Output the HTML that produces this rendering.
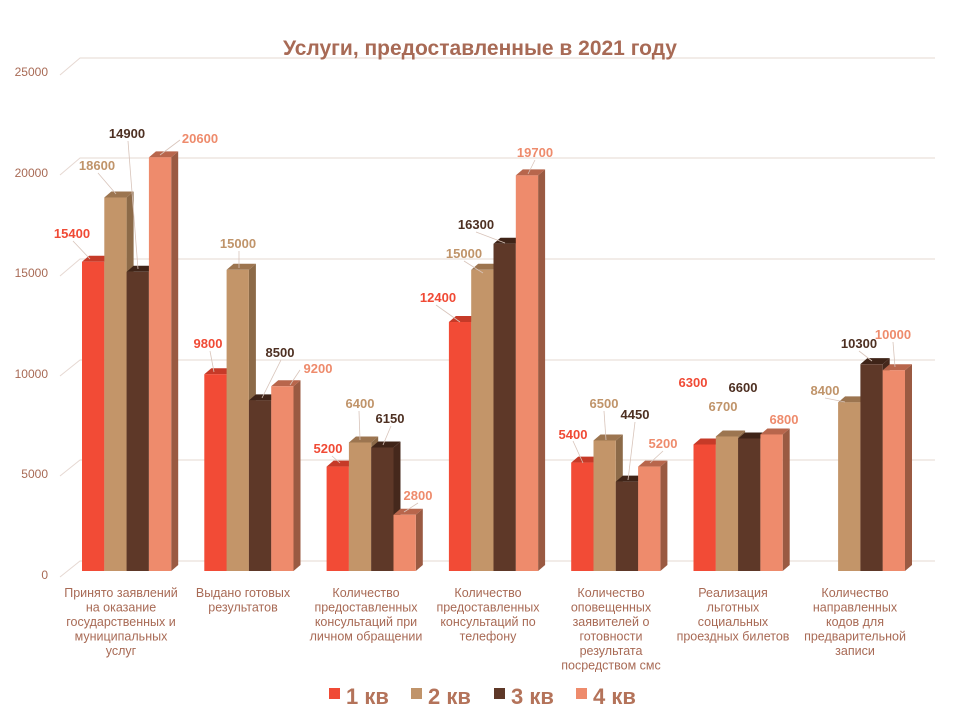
<!DOCTYPE html>
<html><head><meta charset="utf-8">
<style>
body{margin:0;background:#fff;}
#wrap{position:relative;width:960px;height:720px;}
svg{display:block;position:absolute;left:0;top:0;font-family:"Liberation Sans",Arial,sans-serif;}
.ax{font-size:12px;fill:#A86A55;text-anchor:end}
.cat{font-size:12.5px;fill:#A86A55;text-anchor:middle}
.v{font-size:13px;font-weight:bold;text-anchor:middle}
.c1{fill:#F04A35}.c2{fill:#C0946A}.c3{fill:#4E3022}.c4{fill:#EE8B6C}
.lg{font-size:22px;font-weight:bold;fill:#B4735A}
</style></head><body>
<div id="wrap">
<svg width="960" height="720" viewBox="0 0 960 720">
<g stroke="#E6D8D2" stroke-width="1" fill="none">
<path d="M60,75 L80,58 H935"/><path d="M60,175 L80,158 H935"/><path d="M60,276 L80,259 H935"/><path d="M60,376 L80,360 H935"/><path d="M60,476 L80,460 H935"/><path d="M60,577 L80,561 H935"/>
</g>
<g id="bars"></g>
</svg>
<svg width="960" height="720" viewBox="0 0 960 720">
<text x="480" y="55" text-anchor="middle" style="font-size:21px;font-weight:bold;fill:#A86A55">Услуги, предоставленные в 2021 году</text>
<text class="ax" x="48" y="76">25000</text>
<text class="ax" x="48" y="177">20000</text>
<text class="ax" x="48" y="277">15000</text>
<text class="ax" x="48" y="378">10000</text>
<text class="ax" x="48" y="478">5000</text>
<text class="ax" x="48" y="579">0</text>
<g stroke="#D8C4BA" stroke-width="0.8" fill="none">
<path d="M73,241 L90,259"/><path d="M98,173 L116,194"/><path d="M128,141 L138,269"/><path d="M180,140 L160,155"/>
<path d="M210,351 L214,372"/><path d="M239,251 L239,268"/><path d="M281,360 L262,398"/><path d="M300,370 L290,385"/>
<path d="M332,456 L340,463"/><path d="M359,411 L360,440"/><path d="M391,426 L383,445"/><path d="M418,503 L404,512"/>
<path d="M436,305 L460,322"/><path d="M464,261 L483,273"/><path d="M476,232 L505,243"/><path d="M535,160 L528,174"/>
<path d="M573,441 L583,463"/><path d="M604,411 L606,440"/><path d="M635,422 L628,480"/><path d="M663,451 L650,463"/>
<path d="M825,398 L845,402"/><path d="M859,351 L872,361"/><path d="M893,342 L895,367"/>
</g>
<g class="v">
<text class="c1" x="72" y="238">15400</text><text class="c2" x="97" y="170">18600</text><text class="c3" x="127" y="138">14900</text><text class="c4" x="200" y="143">20600</text>
<text class="c1" x="208" y="348">9800</text><text class="c2" x="238" y="248">15000</text><text class="c3" x="280" y="357">8500</text><text class="c4" x="318" y="373">9200</text>
<text class="c1" x="328" y="453">5200</text><text class="c2" x="360" y="408">6400</text><text class="c3" x="390" y="423">6150</text><text class="c4" x="418" y="500">2800</text>
<text class="c1" x="438" y="302">12400</text><text class="c2" x="464" y="258">15000</text><text class="c3" x="476" y="229">16300</text><text class="c4" x="535" y="157">19700</text>
<text class="c1" x="573" y="439">5400</text><text class="c2" x="604" y="408">6500</text><text class="c3" x="635" y="419">4450</text><text class="c4" x="663" y="448">5200</text>
<text class="c1" x="693" y="387">6300</text><text class="c2" x="723" y="411">6700</text><text class="c3" x="743" y="392">6600</text><text class="c4" x="784" y="424">6800</text>
<text class="c2" x="825" y="395">8400</text><text class="c3" x="859" y="348">10300</text><text class="c4" x="893" y="339">10000</text>
</g>
<g class="cat">
<text x="121" y="597">Принято заявлений<tspan x="121" dy="14.5">на оказание</tspan><tspan x="121" dy="14.5">государственных и</tspan><tspan x="121" dy="14.5">муниципальных</tspan><tspan x="121" dy="14.5">услуг</tspan></text>
<text x="243" y="597">Выдано готовых<tspan x="243" dy="14.5">результатов</tspan></text>
<text x="366" y="597">Количество<tspan x="366" dy="14.5">предоставленных</tspan><tspan x="366" dy="14.5">консультаций  при</tspan><tspan x="366" dy="14.5">личном обращении</tspan></text>
<text x="488" y="597">Количество<tspan x="488" dy="14.5">предоставленных</tspan><tspan x="488" dy="14.5">консультаций  по</tspan><tspan x="488" dy="14.5">телефону</tspan></text>
<text x="611" y="597">Количество<tspan x="611" dy="14.5">оповещенных</tspan><tspan x="611" dy="14.5">заявителей о</tspan><tspan x="611" dy="14.5">готовности</tspan><tspan x="611" dy="14.5">результата</tspan><tspan x="611" dy="14.5">посредством смс</tspan></text>
<text x="733" y="597">Реализация<tspan x="733" dy="14.5">льготных</tspan><tspan x="733" dy="14.5">социальных</tspan><tspan x="733" dy="14.5">проездных билетов</tspan></text>
<text x="855" y="597">Количество<tspan x="855" dy="14.5">направленных</tspan><tspan x="855" dy="14.5">кодов для</tspan><tspan x="855" dy="14.5">предварительной</tspan><tspan x="855" dy="14.5">записи</tspan></text>
</g>
<rect x="329" y="688" width="11" height="11" fill="#F04A35"/><text class="lg" x="346" y="704">1 кв</text>
<rect x="411" y="688" width="11" height="11" fill="#C0946A"/><text class="lg" x="428" y="704">2 кв</text>
<rect x="494" y="688" width="11" height="11" fill="#5E3828"/><text class="lg" x="511" y="704">3 кв</text>
<rect x="576" y="688" width="11" height="11" fill="#EE8B6C"/><text class="lg" x="593" y="704">4 кв</text>
</svg>
</div>
<script>
var d=[[15400,18600,14900,20600],[9800,15000,8500,9200],[5200,6400,6150,2800],[12400,15000,16300,19700],[5400,6500,4450,5200],[6300,6700,6600,6800],[0,8400,10300,10000]];
var col=[["#F24B36","#C63A28","#B83A2A"],["#C39569","#9C7550","#8C6A48"],["#5E3828","#3F2418","#45281C"],["#EE8B6C","#B8664C","#9A5A42"]];
var h="",B=571,dx=7,dy=-6,w=22.3;
for(var g=0;g<7;g++)for(var i=0;i<4;i++){var v=d[g][i];if(!v)continue;
var x=82+g*122.3+i*w,t=B-v*0.02008,c=col[i];
h+='<polygon fill="'+c[2]+'" points="'+(x+w)+','+t+' '+(x+w+dx)+','+(t+dy)+' '+(x+w+dx)+','+(B+dy)+' '+(x+w)+','+B+'"/>';
h+='<polygon fill="'+c[1]+'" points="'+x+','+t+' '+(x+dx)+','+(t+dy)+' '+(x+w+dx)+','+(t+dy)+' '+(x+w)+','+t+'"/>';
h+='<rect fill="'+c[0]+'" x="'+x+'" y="'+t+'" width="'+w+'" height="'+(B-t)+'"/>';}
document.getElementById("bars").innerHTML=h;
</script>
</body></html>
